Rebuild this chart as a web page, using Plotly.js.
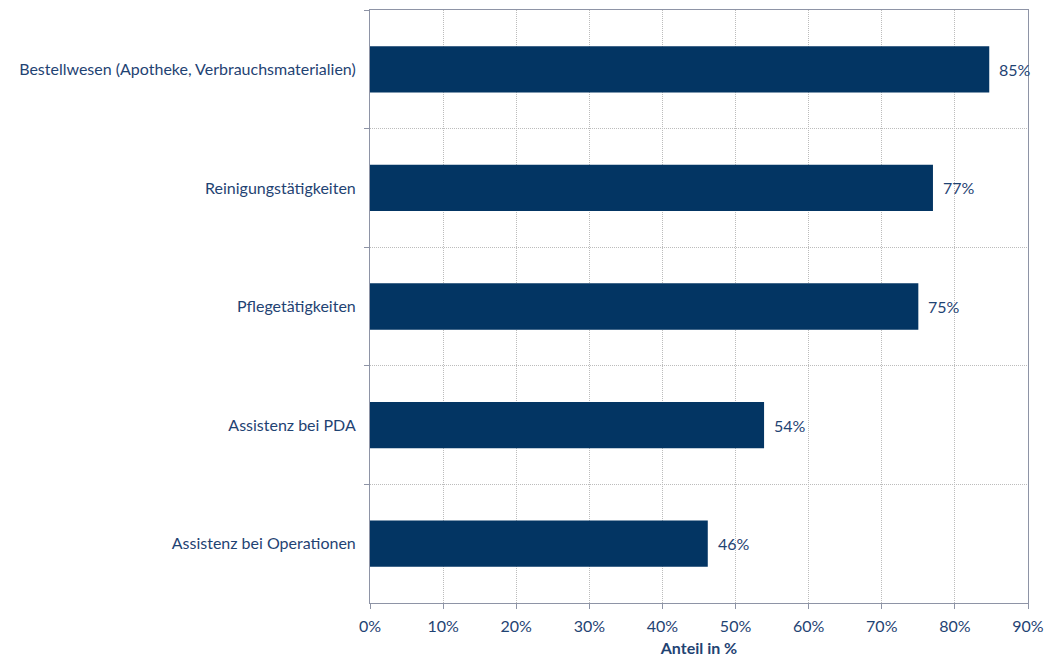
<!DOCTYPE html>
<html>
<head>
<meta charset="utf-8">
<script src="https://cdn.plot.ly/plotly-3.0.1.min.js"></script>
<style>html,body{margin:0;padding:0;background:#fff;}#chart{width:1046px;height:659px;}</style>
</head>
<body>
<div id="chart"></div>
<script>
var categories = [
  "Bestellwesen (Apotheke, Verbrauchsmaterialien)",
  "Reinigungstätigkeiten",
  "Pflegetätigkeiten",
  "Assistenz bei PDA",
  "Assistenz bei Operationen"
];
var values = [84.7, 77.0, 75.0, 53.9, 46.2];
var labels = ["85%", "77%", "75%", "54%", "46%"];
var xTickVals = [0, 10, 20, 30, 40, 50, 60, 70, 80, 90];
var xTickText = ["0%", "10%", "20%", "30%", "40%", "50%", "60%", "70%", "80%", "90%"];

var textColor = "#1f4373";
var fontFam = "Lato, 'Open Sans', sans-serif";

var trace = {
  type: "bar",
  orientation: "h",
  x: values,
  y: categories,
  marker: {color: "#033563"},
  width: 0.39,
  hoverinfo: "none"
};

var annotations = values.map(function (v, i) {
  return {
    x: v, y: categories[i], xref: "x", yref: "y",
    text: labels[i], showarrow: false,
    xanchor: "left", yanchor: "middle", xshift: 8,
    font: {family: fontFam, size: 16, color: textColor}
  };
});

var layout = {
  width: 1046,
  height: 659,
  margin: {l: 370, r: 18, t: 10, b: 56},
  paper_bgcolor: "#ffffff",
  plot_bgcolor: "#ffffff",
  showlegend: false,
  font: {family: fontFam, size: 16, color: textColor},
  annotations: annotations,
  xaxis: {
    range: [0, 90],
    tickvals: xTickVals,
    ticktext: xTickText,
    showgrid: true,
    gridcolor: "#bcbcbc",
    griddash: "1px,1px",
    gridwidth: 1,
    zeroline: false,
    showline: true,
    linecolor: "#8e94a6",
    linewidth: 1,
    mirror: true,
    ticks: "outside",
    ticklen: 5,
    tickcolor: "#8e94a6",
    ticklabelstandoff: 4,
    tickfont: {family: fontFam, size: 16, color: textColor},
    title: {text: "<b>Anteil in %</b>", font: {family: fontFam, size: 16, color: textColor}, standoff: 8}
  },
  yaxis: {
    type: "category",
    categoryorder: "array",
    categoryarray: categories,
    autorange: "reversed",
    tickson: "boundaries",
    showgrid: true,
    gridcolor: "#bcbcbc",
    griddash: "1px,1px",
    gridwidth: 1,
    showline: true,
    linecolor: "#8e94a6",
    linewidth: 1,
    mirror: true,
    ticks: "outside",
    ticklen: 5,
    tickcolor: "#8e94a6",
    ticklabelstandoff: 10,
    tickfont: {family: fontFam, size: 16, color: textColor}
  }
};

Plotly.newPlot("chart", [trace], layout, {displayModeBar: false, staticPlot: true});
</script>
</body>
</html>
